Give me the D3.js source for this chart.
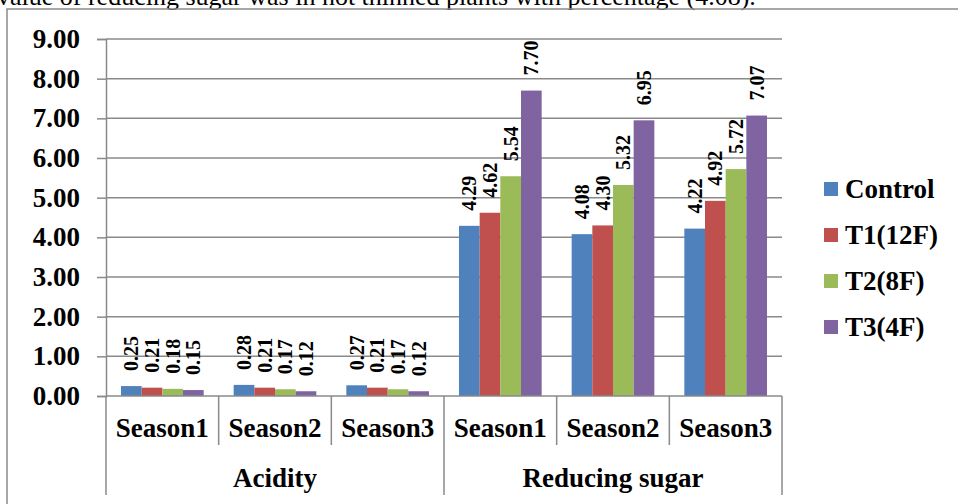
<!DOCTYPE html>
<html>
<head>
<meta charset="utf-8">
<script src="https://cdn.jsdelivr.net/npm/d3@7"></script>
<style>
  html, body { margin: 0; padding: 0; background: #fff; overflow: hidden; }
  svg { display: block; }
  text { font-family: "Liberation Serif", "Times New Roman", serif; }
</style>
</head>
<body>
<svg id="chart" width="958" height="504"></svg>
<script>
// ---- data ----
const groups = ["Acidity", "Reducing sugar"];
const seasons = ["Season1", "Season2", "Season3"];
const seriesNames = ["Control", "T1(12F)", "T2(8F)", "T3(4F)"];
const controlValues = [0.25, 0.28, 0.27, 4.29, 4.08, 4.22];
const t1Values = [0.21, 0.21, 0.21, 4.62, 4.30, 4.92];
const t2Values = [0.18, 0.17, 0.17, 5.54, 5.32, 5.72];
const t3Values = [0.15, 0.12, 0.12, 7.70, 6.95, 7.07];
const yTicks = [0, 1, 2, 3, 4, 5, 6, 7, 8, 9];
const headerText = "value of reducing sugar was in not thinned plants with percentage (4.08).";

(function () {
const seriesValues = [controlValues, t1Values, t2Values, t3Values];
const colors = ["#4F81BD", "#C0504D", "#9BBB59", "#8064A2"];

// categories: each (group, season) pair
const categories = [];
groups.forEach(g => seasons.forEach(s => categories.push({ group: g, season: s, key: g + "|" + s })));

const svg = d3.select("#chart");
const gridColor = "#8a8a8a";

// header text (clipped at the top)
svg.append("text")
  .attr("x", -3).attr("y", 5)
  .attr("font-size", 26)
  .attr("fill", "#000")
  .text(headerText);

// outer frame
svg.append("rect")
  .attr("x", 7).attr("y", 9)
  .attr("width", 1000).attr("height", 600)
  .attr("fill", "none")
  .attr("stroke", gridColor).attr("stroke-width", 1.5);

const plotLeft = 106, plotRight = 782, plotBottom = 396, plotTop = 39;

const x = d3.scaleBand().domain(categories.map(c => c.key)).range([plotLeft, plotRight]).paddingInner(0).paddingOuter(0);
const bw = x.bandwidth();
const xs = d3.scaleBand().domain(seriesNames).range([15, bw - 15]).padding(0);
const y = d3.scaleLinear().domain([0, 9]).range([plotBottom, plotTop]);

// gridlines
svg.append("g").selectAll("line").data(yTicks.filter(t => t > 0)).join("line")
  .attr("x1", plotLeft).attr("x2", plotRight)
  .attr("y1", d => y(d)).attr("y2", d => y(d))
  .attr("stroke", gridColor).attr("stroke-width", 1.5);

// y axis
const yAxis = d3.axisLeft(y).tickValues(yTicks).tickFormat(d3.format(".2f")).tickSize(9).tickPadding(17);
const yg = svg.append("g").attr("transform", `translate(${plotLeft},0)`).call(yAxis);
yg.select(".domain").attr("stroke", gridColor).attr("stroke-width", 1.5);
yg.selectAll(".tick line").attr("stroke", gridColor).attr("stroke-width", 1.5);
yg.selectAll(".tick text")
  .attr("font-family", "Liberation Serif, Times New Roman, serif")
  .attr("font-size", 27).attr("font-weight", "bold").attr("fill", "#000");

// bars
const barData = [];
categories.forEach((c, i) => {
  seriesNames.forEach((s, j) => {
    barData.push({ key: c.key, series: s, value: seriesValues[j][i], color: colors[j] });
  });
});

svg.append("g").selectAll("rect").data(barData).join("rect")
  .attr("x", d => x(d.key) + xs(d.series))
  .attr("y", d => y(d.value))
  .attr("width", xs.bandwidth())
  .attr("height", d => y(0) - y(d.value))
  .attr("fill", d => d.color);

// data labels
svg.append("g").selectAll("text").data(barData).join("text")
  .attr("transform", d => `translate(${x(d.key) + xs(d.series) + xs.bandwidth() / 2},${y(d.value) - 15}) rotate(-90)`)
  .attr("text-anchor", "start")
  .attr("dominant-baseline", "central")
  .attr("font-size", 20).attr("font-weight", "bold").attr("fill", "#000")
  .text(d => d3.format(".2f")(d.value));

// x axis line
svg.append("line")
  .attr("x1", plotLeft).attr("x2", plotRight).attr("y1", plotBottom).attr("y2", plotBottom)
  .attr("stroke", gridColor).attr("stroke-width", 1.5);

// category separators
const boundaries = categories.map(c => x(c.key)).concat([plotRight]);
svg.append("g").selectAll("line").data(boundaries).join("line")
  .attr("x1", d => d).attr("x2", d => d)
  .attr("y1", plotBottom)
  .attr("y2", (d, i) => (i % seasons.length === 0) ? 495 : 445)
  .attr("stroke", gridColor).attr("stroke-width", 1.5);

// season labels
svg.append("g").selectAll("text").data(categories).join("text")
  .attr("x", d => x(d.key) + bw / 2)
  .attr("y", 428)
  .attr("text-anchor", "middle").attr("dominant-baseline", "central")
  .attr("font-size", 27).attr("font-weight", "bold").attr("fill", "#000")
  .text(d => d.season);

// group labels
svg.append("g").selectAll("text").data(groups).join("text")
  .attr("x", (g, i) => (x(categories[i * seasons.length].key) + x(categories[i * seasons.length + seasons.length - 1].key) + bw) / 2)
  .attr("y", 478)
  .attr("text-anchor", "middle").attr("dominant-baseline", "central")
  .attr("font-size", 27).attr("font-weight", "bold").attr("fill", "#000")
  .text(d => d);

// legend
const legend = svg.append("g").attr("transform", "translate(824,189)");
const li = legend.selectAll("g").data(seriesNames).join("g")
  .attr("transform", (d, i) => `translate(0,${i * 46})`);
li.append("rect").attr("x", 0).attr("y", -7).attr("width", 14).attr("height", 14)
  .attr("fill", (d, i) => colors[i]);
li.append("text").attr("x", 21).attr("y", 0)
  .attr("dominant-baseline", "central")
  .attr("font-size", 27).attr("font-weight", "bold").attr("fill", "#000")
  .text(d => d);
})();
</script>
</body>
</html>
